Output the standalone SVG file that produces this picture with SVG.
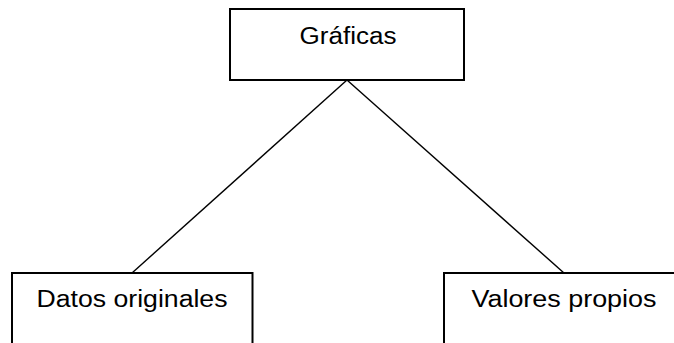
<svg xmlns="http://www.w3.org/2000/svg" width="674" height="343" viewBox="0 0 674 343">
<style>
.box{fill:#fff;stroke:#000;stroke-width:2}
.lbl{font-family:"Liberation Sans",Arial,sans-serif;font-size:23.5px;fill:#000;text-anchor:middle}
.conn{stroke:#000;stroke-width:1.4;fill:none}
</style>
<rect width="674" height="343" fill="#fff"/>
<g id="connectors">
<line class="conn" x1="347" y1="80" x2="132" y2="273"/>
<line class="conn" x1="347" y1="80" x2="564" y2="273"/>
</g>
<g id="graficas">
<rect class="box" x="230" y="9" width="234" height="71"/>
<text class="lbl" x="348" y="44" textLength="97" lengthAdjust="spacingAndGlyphs">Gráficas</text>
</g>
<g id="datos">
<rect class="box" x="12" y="273" width="240.5" height="80"/>
<text class="lbl" x="132" y="307" textLength="191" lengthAdjust="spacingAndGlyphs">Datos originales</text>
</g>
<g id="valores">
<rect class="box" x="444" y="273" width="240" height="80"/>
<text class="lbl" x="564" y="307" textLength="185" lengthAdjust="spacingAndGlyphs">Valores propios</text>
</g>
</svg>
